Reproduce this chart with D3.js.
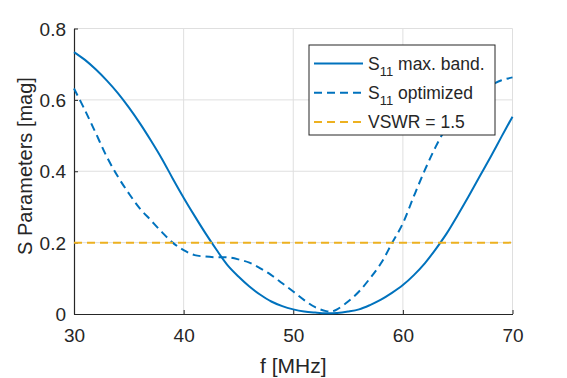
<!DOCTYPE html>
<html>
<head>
<meta charset="utf-8">
<script src="https://cdn.jsdelivr.net/npm/d3@7"></script>
<style>
  body { margin: 0; background: #fff; }
  svg { display: block; font-family: "Liberation Sans", Arial, sans-serif; }
</style>
</head>
<body>
<div class="vis"></div>
<script>
// frequencies [MHz] and |S11| values
var freqMax = [30, 31, 32, 33, 34, 35, 36, 37, 38, 39, 40, 41, 42, 43, 44, 45, 46, 47, 48, 49, 50, 51, 52, 53, 54, 55, 56, 57, 58, 59, 60, 61, 62, 63, 64, 65, 66, 67, 68, 69, 70];
var s11Max = [0.734, 0.712, 0.685, 0.654, 0.619, 0.579, 0.535, 0.487, 0.436, 0.38, 0.326, 0.275, 0.226, 0.18, 0.137, 0.105, 0.077, 0.054, 0.035, 0.022, 0.013, 0.007, 0.004, 0.002, 0.003, 0.007, 0.013, 0.025, 0.04, 0.059, 0.081, 0.109, 0.142, 0.182, 0.226, 0.277, 0.33, 0.385, 0.44, 0.497, 0.553];

var freqOpt = [30, 31, 32, 33, 34, 35, 36, 37, 38, 39, 40, 41, 42, 43, 44, 45, 46, 47, 48, 49, 50, 51, 52, 53, 53.5, 54, 55, 56, 57, 58, 59, 60, 61, 62, 63, 64, 65, 66, 67, 68, 69, 70];
var s11Opt = [0.632, 0.571, 0.506, 0.44, 0.385, 0.338, 0.296, 0.263, 0.23, 0.2, 0.179, 0.165, 0.161, 0.159, 0.159, 0.153, 0.144, 0.128, 0.109, 0.086, 0.063, 0.039, 0.019, 0.008, 0.007, 0.013, 0.035, 0.063, 0.1, 0.142, 0.198, 0.254, 0.33, 0.403, 0.469, 0.525, 0.571, 0.603, 0.625, 0.641, 0.655, 0.663];

var vswrLevel = 0.2;
var xTicks = [30, 40, 50, 60, 70];
var yTicks = [0, 0.2, 0.4, 0.6, 0.8];

var W = 567, H = 378;
var margin = { left: 74, right: 54.5, top: 28.5, bottom: 64 };
var width = W - margin.left - margin.right,
    height = H - margin.top - margin.bottom;

var blue = "#0072BD", orange = "#EDB120", axisCol = "#262626", gridCol = "#dfdfdf";

var svg = d3.select(".vis").append("svg")
    .attr("width", W).attr("height", H);
var g = svg.append("g")
    .attr("transform", "translate(" + margin.left + "," + margin.top + ")");

var x = d3.scaleLinear().domain([30, 70]).range([0, width]);
var y = d3.scaleLinear().domain([0, 0.8]).range([height, 0]);

// grid
g.append("g").selectAll("line").data(xTicks.slice(1)).enter().append("line")
    .attr("x1", d => x(d)).attr("x2", d => x(d))
    .attr("y1", 0).attr("y2", height)
    .style("stroke", gridCol).style("stroke-width", 1);
g.append("g").selectAll("line").data(yTicks.slice(1)).enter().append("line")
    .attr("x1", 0).attr("x2", width)
    .attr("y1", d => y(d)).attr("y2", d => y(d))
    .style("stroke", gridCol).style("stroke-width", 1);

// axes
var xAxis = g.append("g")
    .attr("transform", "translate(0," + height + ")")
    .call(d3.axisBottom(x).tickValues(xTicks).tickSizeInner(-4).tickSizeOuter(0).tickPadding(15));
var yAxis = g.append("g")
    .call(d3.axisLeft(y).tickValues(yTicks).tickFormat(d => d === 0 ? "0" : d3.format(".1f")(d))
        .tickSizeInner(-4).tickSizeOuter(0).tickPadding(8));
[xAxis, yAxis].forEach(function (a) {
    a.select(".domain").style("stroke", axisCol).style("stroke-width", 1.2);
    a.selectAll(".tick line").style("stroke", axisCol);
    a.selectAll("text").style("fill", axisCol).style("font-size", "19px")
        .style("font-family", "'Liberation Sans', Arial, sans-serif");
});
yAxis.selectAll("text").attr("dy", "0.35em");

var line = d3.line()
    .x(d => x(d[0]))
    .y(d => y(d[1]))
    .curve(d3.curveCatmullRom);

g.append("path")
    .datum(freqMax.map((f, i) => [f, s11Max[i]]))
    .attr("d", line)
    .style("fill", "none").style("stroke", blue).style("stroke-width", 2);

g.append("path")
    .datum(freqOpt.map((f, i) => [f, s11Opt[i]]))
    .attr("d", line)
    .style("fill", "none").style("stroke", blue).style("stroke-width", 2)
    .style("stroke-dasharray", "8,5");

g.append("line")
    .attr("x1", x(30)).attr("x2", x(70))
    .attr("y1", y(vswrLevel)).attr("y2", y(vswrLevel))
    .style("stroke", orange).style("stroke-width", 2)
    .style("stroke-dasharray", "8,5");

// axis labels
svg.append("text")
    .attr("x", margin.left + width / 2).attr("y", 373)
    .attr("text-anchor", "middle")
    .style("font-size", "21px").style("fill", axisCol)
    .text("f [MHz]");
svg.append("text")
    .attr("transform", "translate(32,166) rotate(-90)")
    .attr("text-anchor", "middle")
    .style("font-size", "20px").style("fill", axisCol)
    .text("S Parameters [mag]");

// legend
var legend = svg.append("g").attr("transform", "translate(309,45)");
legend.append("rect")
    .attr("width", 186).attr("height", 90)
    .style("fill", "#fff").style("stroke", axisCol).style("stroke-width", 1);

var entries = [
    { main: "S", sub: "11", rest: " max. band.", color: blue, dash: null },
    { main: "S", sub: "11", rest: " optimized", color: blue, dash: "8,5" },
    { main: "VSWR = 1.5", sub: null, rest: null, color: orange, dash: "8,5" }
];
entries.forEach(function (e, i) {
    var cy = 18.5 + i * 29.3;
    legend.append("line")
        .attr("x1", 5).attr("x2", 54).attr("y1", cy).attr("y2", cy)
        .style("stroke", e.color).style("stroke-width", 2)
        .style("stroke-dasharray", e.dash);
    var t = legend.append("text")
        .attr("x", 59).attr("y", cy + 6)
        .style("font-size", "17.5px").style("fill", axisCol);
    t.append("tspan").text(e.main);
    if (e.sub) {
        t.append("tspan").attr("dy", 6).style("font-size", "13px").text(e.sub);
        t.append("tspan").attr("dy", -6).text(e.rest);
    }
});
</script>
</body>
</html>
